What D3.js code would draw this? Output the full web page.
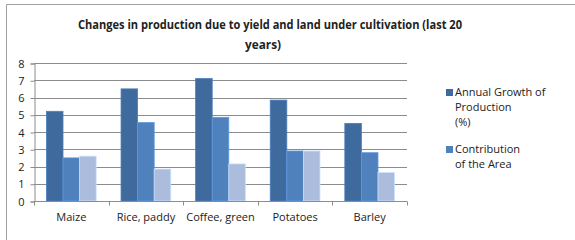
<!DOCTYPE html>
<html>
<head>
<meta charset="utf-8">
<script src="https://cdn.jsdelivr.net/npm/d3@7"></script>
<style>
  body { margin: 0; background: #fff; }
  svg text { font-family: "Open Sans", "Liberation Sans", sans-serif; fill: #222; }
</style>
</head>
<body>
<div id="app"></div>
<script>
// chart data
var categories = ["Maize", "Rice, paddy", "Coffee, green", "Potatoes", "Barley"];
var seriesNames = ["Annual Growth of Production (%)", "Contribution of the Area", "Contribution of the Yield"];
var growth = [5.2, 6.5, 7.1, 5.85, 4.5];
var area = [2.5, 4.55, 4.85, 2.9, 2.8];
var yieldPart = [2.6, 1.85, 2.15, 2.9, 1.65];
var yTicks = [0, 1, 2, 3, 4, 5, 6, 7, 8];
var colors = ["#3f6a9e", "#4f81bd", "#abbcdc"];

var width = 575, height = 240;
var plot = {left: 34, right: 407, top: 63, bottom: 201};

var svg = d3.select("#app").append("svg").attr("width", width).attr("height", height);

// outer frame (clipped on right and bottom like the reference)
svg.append("path").attr("d", "M6.5," + height + "V4.5H" + width)
  .attr("fill", "none").attr("stroke", "#a0a0a0").attr("stroke-width", 1);

var title = svg.append("text").attr("text-anchor", "middle")
  .style("font-weight", "bold").style("font-size", "12px");
title.append("tspan").attr("x", 270).attr("y", 29)
  .attr("textLength", 384).attr("lengthAdjust", "spacingAndGlyphs")
  .text("Changes in production due to yield and land under cultivation (last 20");
title.append("tspan").attr("x", 263).attr("y", 49)
  .attr("textLength", 36).attr("lengthAdjust", "spacingAndGlyphs")
  .text("years)");

var x0 = d3.scaleBand().domain(categories).range([plot.left, plot.right]).paddingInner(0).paddingOuter(0);
var y = d3.scaleLinear().domain([0, 8]).range([plot.bottom, plot.top]);
var bw = x0.bandwidth() / 4.5;
var x1 = d3.scaleBand().domain([0, 1, 2]).range([0.75 * bw, 3.75 * bw]);

// gridlines
svg.append("g").selectAll("line").data(yTicks.slice(1)).join("line")
  .attr("x1", plot.left).attr("x2", plot.right)
  .attr("y1", function(d){ return Math.round(y(d)) + 0.5; })
  .attr("y2", function(d){ return Math.round(y(d)) + 0.5; })
  .attr("stroke", "#8c8c8c").attr("stroke-width", 1);

var rows = categories.map(function(c, i){ return [growth[i], area[i], yieldPart[i]]; });

svg.append("g").selectAll("g").data(rows).join("g")
  .attr("transform", function(d, i){ return "translate(" + x0(categories[i]) + ",0)"; })
  .selectAll("rect").data(function(d){ return d; }).join("rect")
  .attr("x", function(d, j){ return x1(j); })
  .attr("width", x1.bandwidth())
  .attr("y", function(d){ return y(d); })
  .attr("height", function(d){ return y(0) - y(d); })
  .attr("fill", function(d, j){ return colors[j]; })
  .attr("stroke", function(d, j){ return d3.color(colors[j]).brighter(0.5); })
  .attr("stroke-width", 0.8);

// y axis
var yAxis = svg.append("g").attr("transform", "translate(" + (plot.left + 0.5) + ",0.5)")
  .call(d3.axisLeft(y).tickValues(yTicks).tickSize(4).tickPadding(6).tickFormat(d3.format("d")));
yAxis.select(".domain").attr("stroke", "#8c8c8c");
yAxis.selectAll(".tick line").attr("stroke", "#8c8c8c");
yAxis.selectAll("text").style("font-size", "11px").style("fill", "#222");

// x axis with ticks on category boundaries
var xAxis = svg.append("g").attr("transform", "translate(0," + (Math.round(plot.bottom) + 0.5) + ")");
xAxis.append("line").attr("x1", plot.left).attr("x2", plot.right).attr("stroke", "#8c8c8c");
var bounds = categories.map(function(c){ return x0(c); }).concat([plot.right]);
xAxis.selectAll("line.tk").data(bounds).join("line").attr("class", "tk")
  .attr("x1", function(d){ return Math.round(d) + 0.5; }).attr("x2", function(d){ return Math.round(d) + 0.5; })
  .attr("y1", 0).attr("y2", 4).attr("stroke", "#8c8c8c");
xAxis.selectAll("text").data(categories).join("text")
  .attr("x", function(d){ return x0(d) + x0.bandwidth() / 2; })
  .attr("y", 19).attr("text-anchor", "middle").style("font-size", "11px")
  .text(function(d){ return d; });

// legend (only first two entries visible in reference)
var legendLines = [["Annual Growth of", "Production", "(%)"], ["Contribution", "of the Area"]];
var legendTop = [89, 146];
var lg = svg.append("g").selectAll("g").data(legendLines).join("g")
  .attr("transform", function(d, i){ return "translate(446," + legendTop[i] + ")"; });
lg.append("rect").attr("width", 7).attr("height", 7)
  .attr("fill", function(d, i){ return colors[i]; });
lg.append("text").style("font-size", "11px")
  .selectAll("tspan").data(function(d){ return d; }).join("tspan")
  .attr("x", 9).attr("y", function(d, k){ return 7 + k * 15; })
  .text(function(d){ return d; });
</script>
</body>
</html>
